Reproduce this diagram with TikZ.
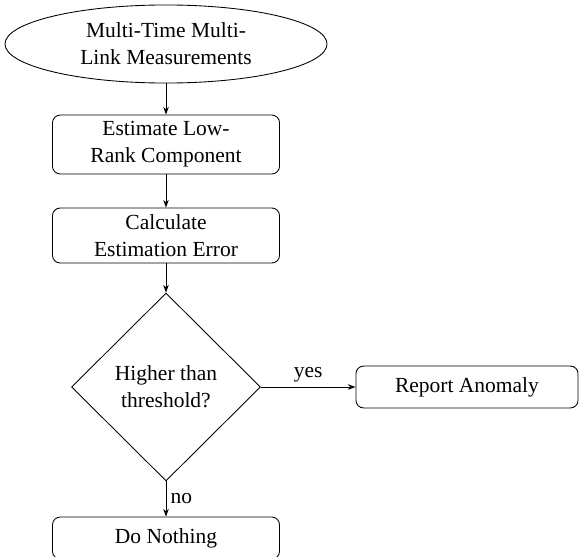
\documentclass[tikz,border=0pt]{standalone}
\usepackage{fontspec}
\setmainfont{Liberation Serif}
\usetikzlibrary{shapes.geometric,arrows.meta}
\begin{document}
\begin{tikzpicture}[x=0.4651pt,y=-0.4651pt,
  base/.style={draw,thin,align=center,inner sep=0pt,font=\fontsize{10}{12.5}\selectfont},
  roundbox/.style={base,rectangle,rounded corners=3.6pt,minimum width=105.6pt},
  flowarrow/.style={-{Stealth[length=3.6pt,width=2.6pt]},thin}]
\useasboundingbox (0,0) rectangle (580,556);
\node[base,ellipse,minimum width=149.8pt,minimum height=36.3pt] (meas) at (166,44) {Multi-Time Multi-\\Link Measurements};
\node[roundbox,minimum height=27.4pt] (est) at (166,144.5) {Estimate Low-\\Rank Component};
\node[roundbox,minimum height=25.6pt] (calc) at (166,235.5) {Calculate\\Estimation Error};
\node[base,diamond,minimum width=87.9pt,minimum height=87.4pt] (dec) at (166,387) {Higher than\\threshold?};
\node[roundbox,minimum width=103.3pt,minimum height=19.5pt] (rep) at (467,387) {Report Anomaly};
\node[roundbox,minimum height=19.5pt] (none) at (166,538) {Do Nothing};
\draw[flowarrow] (meas) -- (est);
\draw[flowarrow] (est) -- (calc);
\draw[flowarrow] (calc) -- (dec);
\draw[flowarrow] (dec.east) -- node[above,font=\fontsize{10}{12}\selectfont,inner sep=2pt] (yes) {yes} (rep.west);
\draw[flowarrow] (dec.south) -- node[right,font=\fontsize{10}{12}\selectfont,inner sep=2pt] (no) {no} (none.north);
\end{tikzpicture}
\end{document}
